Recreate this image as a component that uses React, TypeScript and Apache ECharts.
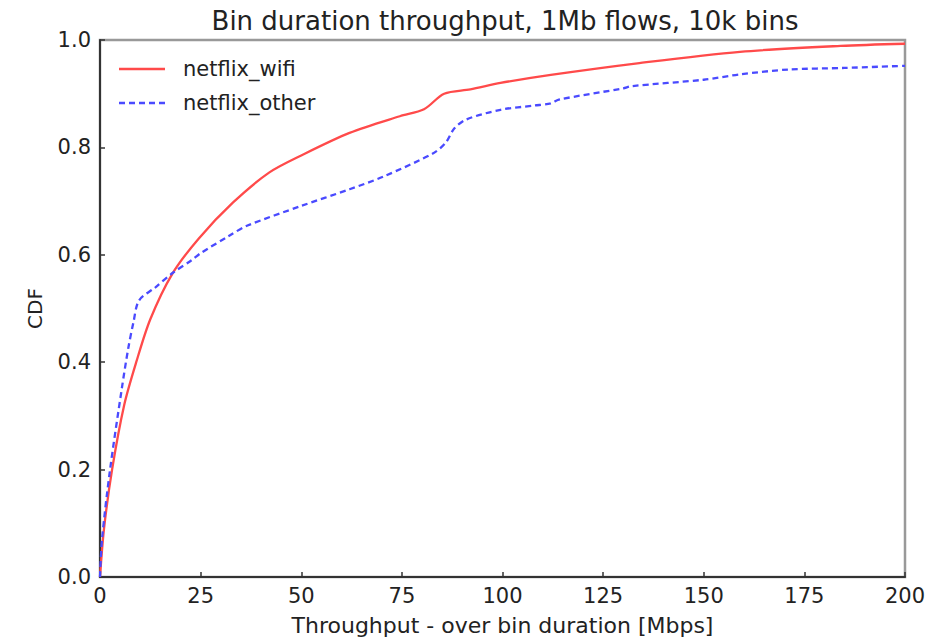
import React, { useEffect, useRef } from "react";
import * as echarts from "echarts";

const titleText = "Bin duration throughput, 1Mb flows, 10k bins";
const xAxisName = "Throughput - over bin duration [Mbps]";
const yAxisName = "CDF";
const seriesNames = ["netflix_wifi", "netflix_other"];
const seriesColors = ["#ff4a4a", "#4a4aff"];

const wifiX = [0, 1, 3, 6, 9, 12.5, 18, 24.5, 33, 42, 50, 62, 74.5, 80.5, 85.5, 92, 99.5, 112, 134, 159, 184, 200];
const wifiY = [0, 0.09, 0.2, 0.32, 0.4, 0.48, 0.565, 0.63, 0.697, 0.753, 0.785, 0.827, 0.858, 0.871, 0.9, 0.908, 0.92, 0.935, 0.957, 0.978, 0.989, 0.993];

const otherX = [0, 0.5, 2.5, 5.5, 7, 8.3, 9.7, 13.7, 18.2, 22.8, 25, 32, 36.5, 50, 62, 70.5, 83, 86, 88, 91, 99.5, 108, 112, 114, 130, 132, 150, 159, 171, 185, 200];
const otherY = [0, 0.07, 0.2, 0.355, 0.425, 0.474, 0.515, 0.539, 0.567, 0.59, 0.603, 0.635, 0.654, 0.691, 0.722, 0.746, 0.79, 0.81, 0.835, 0.852, 0.87, 0.878, 0.882, 0.889, 0.91, 0.914, 0.926, 0.936, 0.945, 0.948, 0.952];

const xTicks = { min: 0, max: 200, interval: 25 };
const yTicks = { min: 0, max: 1, interval: 0.2 };

const FONT = "DejaVu Sans";
const DASH = [6, 4];

export default function App() {
  const ref = useRef<HTMLDivElement>(null);
  useEffect(() => {
    if (!ref.current) return;
    const chart = echarts.init(ref.current, undefined, { renderer: "svg" });
    const zip = (xs: number[], ys: number[]) => xs.map((x, i) => [x, ys[i]]);
    const legendRows = [69, 103];
    const legendGraphics: any[] = [];
    seriesNames.forEach((name, i) => {
      legendGraphics.push({
        type: "line",
        shape: { x1: 119, y1: legendRows[i], x2: 165, y2: legendRows[i] },
        style: {
          stroke: seriesColors[i],
          lineWidth: 2.5,
          lineDash: i === 1 ? DASH : null,
        },
      });
      legendGraphics.push({
        type: "text",
        x: 183,
        y: legendRows[i],
        style: {
          text: name,
          fontFamily: FONT,
          fontSize: 21,
          fill: "#222",
          verticalAlign: "middle",
          align: "left",
        },
      });
    });
    chart.setOption({
      animation: false,
      backgroundColor: "#ffffff",
      textStyle: { fontFamily: FONT },
      title: {
        text: titleText,
        left: 500,
        top: 3,
        textAlign: "center",
        textStyle: { fontFamily: FONT, fontSize: 26, fontWeight: "normal", color: "#222" },
      },
      graphic: legendGraphics,
      grid: {
        left: 100,
        right: 35,
        top: 40,
        bottom: 62,
        show: true,
        borderColor: "#999",
        borderWidth: 2.5,
        containLabel: false,
      },
      xAxis: {
        type: "value",
        min: xTicks.min,
        max: xTicks.max,
        interval: xTicks.interval,
        name: xAxisName,
        nameLocation: "middle",
        nameGap: 37,
        nameTextStyle: { fontFamily: FONT, fontSize: 22, color: "#222" },
        axisLine: { show: true, lineStyle: { color: "#333", width: 2 } },
        axisTick: { show: true, inside: true, length: 5, lineStyle: { color: "#333", width: 1.5 } },
        axisLabel: { fontFamily: FONT, fontSize: 21, color: "#222", margin: 8 },
        splitLine: { show: false },
      },
      yAxis: {
        type: "value",
        min: yTicks.min,
        max: yTicks.max,
        interval: yTicks.interval,
        name: yAxisName,
        nameLocation: "middle",
        nameGap: 55,
        nameRotate: 90,
        nameTextStyle: { fontFamily: FONT, fontSize: 20, color: "#222" },
        axisLine: { show: true, lineStyle: { color: "#333", width: 2 } },
        axisTick: { show: true, inside: true, length: 5, lineStyle: { color: "#333", width: 1.5 } },
        axisLabel: {
          fontFamily: FONT,
          fontSize: 21,
          color: "#222",
          margin: 9,
          formatter: (v: number) => v.toFixed(1),
        },
        splitLine: { show: false },
      },
      series: [
        {
          name: seriesNames[0],
          type: "line",
          data: zip(wifiX, wifiY),
          showSymbol: false,
          symbol: "none",
          smooth: 0.3,
          lineStyle: { color: seriesColors[0], width: 2.3 },
          itemStyle: { color: seriesColors[0] },
        },
        {
          name: seriesNames[1],
          type: "line",
          data: zip(otherX, otherY),
          showSymbol: false,
          symbol: "none",
          smooth: 0.3,
          lineStyle: { color: seriesColors[1], width: 2.3, type: DASH },
          itemStyle: { color: seriesColors[1] },
        },
      ],
    });
    return () => chart.dispose();
  }, []);
  return (
    <div
      ref={ref}
      style={{ position: "absolute", left: 0, top: 0, width: 940, height: 641 }}
    />
  );
}
